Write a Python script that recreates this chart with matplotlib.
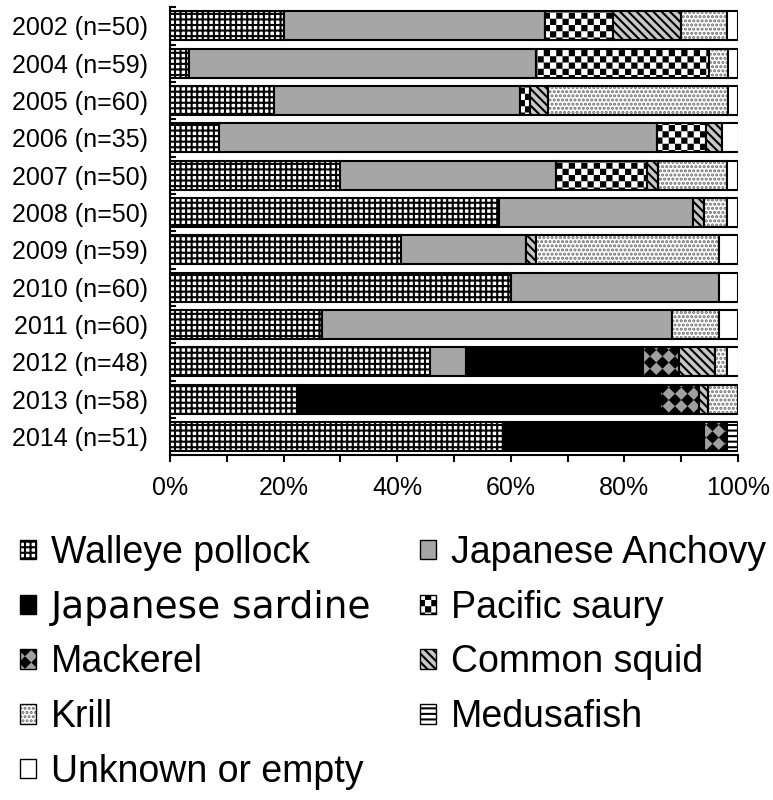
import numpy as np
import matplotlib
matplotlib.use('Agg')
import matplotlib.pyplot as plt
import matplotlib.hatch as mhatch
from matplotlib.path import Path
from matplotlib.patches import Patch

# stomach contents, % of samples per year
years = ['2002 (n=50)', '2004 (n=59)', '2005 (n=60)', '2006 (n=35)', '2007 (n=50)', '2008 (n=50)',
         '2009 (n=59)', '2010 (n=60)', '2011 (n=60)', '2012 (n=48)', '2013 (n=58)', '2014 (n=51)']
pollock  = [20, 3.4, 18.3, 8.6, 30, 58, 40.7, 60, 26.7, 45.8, 22.4, 58.8]
anchovy  = [46, 61, 43.3, 77.1, 38, 34, 22, 36.7, 61.7, 6.3, 0, 0]
sardine  = [0, 0, 0, 0, 0, 0, 0, 0, 0, 31.2, 63.8, 35.3]
saury    = [12, 30.5, 1.7, 8.6, 16, 0, 0, 0, 0, 0, 0, 0]
mackerel = [0, 0, 0, 0, 0, 0, 0, 0, 0, 6.3, 6.9, 3.9]
squid    = [12, 0, 3.3, 2.9, 2, 2, 1.7, 0, 0, 6.3, 1.7, 0]
krill    = [8, 3.4, 31.7, 0, 12, 4, 32.2, 0, 8.3, 2.1, 5.2, 0]
medusa   = [0, 0, 0, 0, 0, 0, 0, 0, 0, 0, 0, 2]
unknown  = [2, 1.7, 1.7, 2.9, 2, 2, 3.4, 3.3, 3.3, 2.1, 0, 0]

names = ['Walleye pollock', 'Japanese Anchovy', 'Japanese sardine', 'Pacific saury', 'Mackerel',
         'Common squid', 'Krill', 'Medusafish', 'Unknown or empty']
series = [pollock, anchovy, sardine, saury, mackerel, squid, krill, medusa, unknown]
# (face, hatch, hatch colour)
styles = [('white', '+++', 'black'), ('#a6a6a6', None, 'black'), ('black', None, 'black'),
          ('white', '*', 'black'), ('#a0a0a0', 'O', 'black'), ('#c8c8c8', '\\\\\\\\', 'black'),
          ('white', '....', '#6e6e6e'), ('white', '---', 'black'), ('white', None, 'black')]

plt.rcParams['font.family'] = ['Liberation Sans', 'DejaVu Sans']
plt.rcParams['hatch.linewidth'] = 1.5

# extra fill patterns: checkerboard ('*') and diamonds ('O')
# hatch cell is 1 inch; shrink shapes by half the hatch stroke
SHRINK = plt.rcParams['hatch.linewidth'] / 2 / 72


def checker_polys(n):
    s = 1.0 / n
    d = SHRINK
    polys = []
    for i in range(n):
        for j in range(n):
            if (i + j) % 2 == 0:
                x0, y0, x1, y1 = i * s + d, j * s + d, (i + 1) * s - d, (j + 1) * s - d
                polys.append([(x0, y0), (x1, y0), (x1, y1), (x0, y1)])
    return polys


def diamond_polys(n):
    s = 1.0 / n
    h = s / 2 - SHRINK * np.sqrt(2)
    polys = []
    for i in range(n + 1):
        for j in range(n + 1):
            cx, cy = i * s, j * s
            polys.append([(cx - h, cy), (cx, cy - h), (cx + h, cy), (cx, cy + h)])
    return polys


class TileHatch(mhatch.HatchPatternBase):
    char = '*'

    def __init__(self, hatch, density):
        k = hatch.count(self.char)
        self.polys = self.tiles(k) if k else []
        self.num_vertices = 5 * len(self.polys)

    def set_vertices_and_codes(self, vertices, codes):
        for i, poly in enumerate(self.polys):
            vertices[5 * i:5 * i + 4] = poly
            vertices[5 * i + 4] = poly[0]
            codes[5 * i] = Path.MOVETO
            codes[5 * i + 1:5 * i + 4] = Path.LINETO
            codes[5 * i + 4] = Path.CLOSEPOLY


class Checker(TileHatch):
    char = '*'

    def tiles(self, k):
        return checker_polys(16 * k)


class Diamonds(TileHatch):
    char = 'O'

    def tiles(self, k):
        return diamond_polys(8 * k)


mhatch._hatch_types = [t for t in mhatch._hatch_types
                       if t not in (mhatch.Stars, mhatch.LargeCircles)] + [Checker, Diamonds]

fig, ax = plt.subplots(figsize=(7.73, 8), dpi=100)
fig.subplots_adjust(left=0.22, right=0.9547, top=0.991, bottom=0.431)

y = np.arange(len(years))
left = np.zeros(len(years))
handles = {}
for name, vals, (fc, hatch, hc) in zip(names, series, styles):
    vals = np.array(vals, dtype=float)
    m = vals > 0
    ax.barh(y[m], vals[m], left=left[m], height=0.78, color=fc, hatch=hatch, edgecolor=hc, linewidth=0)
    ax.barh(y[m], vals[m], left=left[m], height=0.78, fill=False, edgecolor='black', linewidth=1.5)
    left += vals
    handles[name] = (Patch(facecolor=fc, hatch=hatch, edgecolor=hc, linewidth=0),
                     Patch(fill=False, edgecolor='black', linewidth=1))

ax.set_xlim(0, 100)
ax.set_ylim(len(years) - 0.5, -0.5)
ax.set_yticks(y)
ax.set_yticklabels(years, fontsize=18)
ax.set_yticks(np.arange(-0.5, len(years)), minor=True)
ax.set_xticks(np.arange(0, 101, 20))
ax.set_xticklabels([f'{v}%' for v in range(0, 101, 20)], fontsize=18)
ax.set_xticks(np.arange(10, 100, 20), minor=True)
ax.tick_params(axis='x', which='both', direction='out', length=5, width=1.5, pad=10)
ax.tick_params(axis='y', which='major', length=0, pad=16)
ax.tick_params(axis='y', which='minor', direction='in', length=4, width=1.5)
for s in ['top', 'right']:
    ax.spines[s].set_visible(False)
for s in ['left', 'bottom']:
    ax.spines[s].set_linewidth(1.5)

# legend filled column-wise, so list the left column first
order = ['Walleye pollock', 'Japanese sardine', 'Mackerel', 'Krill', 'Unknown or empty',
         'Japanese Anchovy', 'Pacific saury', 'Common squid', 'Medusafish']
leg = fig.legend([handles[n] for n in order], order, loc='upper left',
                 bbox_to_anchor=(20 / 773, 1 - 535 / 800), ncol=2, frameon=False, fontsize=27,
                 handlelength=0.42, handleheight=0.42, handletextpad=0.4, labelspacing=0.5,
                 columnspacing=1.3, borderpad=0, borderaxespad=0)
leg.get_texts()[1].set_family('DejaVu Sans')

fig.savefig('out.png', dpi=100)
